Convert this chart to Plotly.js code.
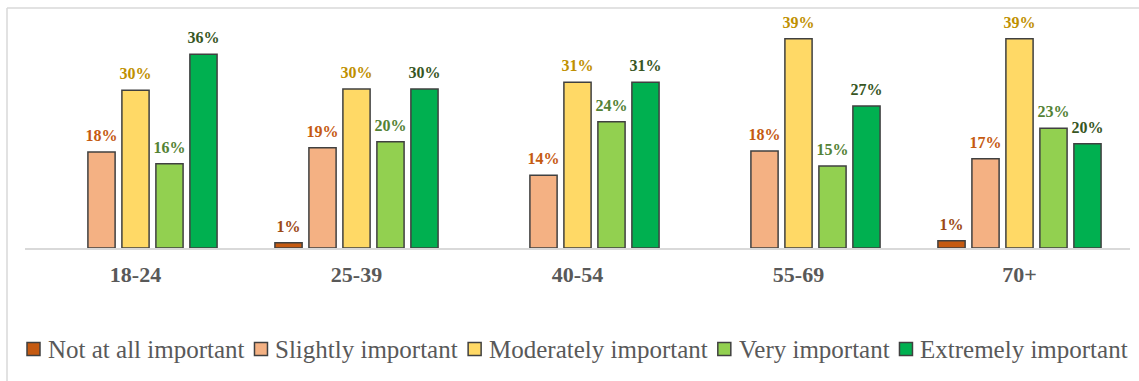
<!DOCTYPE html>
<html><head><meta charset="utf-8">
<script src="https://cdn.plot.ly/plotly-3.0.1.min.js"></script>
<style>html,body{margin:0;padding:0;background:#fff;} #chart{width:1139px;height:381px;}</style>
</head><body><div id="chart"></div>
<script>
// ---- data (percent; labels show rounded values)
const categories = ['18-24', '25-39', '40-54', '55-69', '70+'];
const seriesNames = ['Not at all important', 'Slightly important', 'Moderately important', 'Very important', 'Extremely important'];
const notAtAll   = [null, 1.0, null, null, 1.37];
const slightly   = [18.06, 18.87, 13.68, 18.25, 16.80];
const moderately = [29.67, 29.92, 31.18, 39.38, 39.38];
const very       = [15.86, 20.00, 23.76, 15.43, 22.52];
const extremely  = [36.44, 29.92, 31.18, 26.72, 19.62];

// ---- styles
const fillColors  = ['#C55A11', '#F4B183', '#FFD966', '#92D050', '#00B050'];
const labelColors = ['#9C4A15', '#C55A11', '#BF9000', '#548235', '#375623'];
const FONT = 'Liberation Serif';

const W = 1139, H = 381;
const M = {l: 25, r: 9, t: 10, b: 133};
const plotW = W - M.l - M.r, plotH = H - M.t - M.b;
const pxPerPct = 5.315;
const BARGAP = 0.231;
const px2paperX = px => (px - M.l) / plotW;
const px2paperY = py => (H - M.b - py) / plotH;

const seriesValues = [notAtAll, slightly, moderately, very, extremely];
const barTraces = seriesValues.map((vals, i) => ({
  type: 'bar',
  name: seriesNames[i],
  x: categories,
  y: vals,
  marker: {color: fillColors[i], line: {color: '#404040', width: 1.5}},
  textposition: 'none',
  hoverinfo: 'skip'
}));
// value labels: grouped scatter text placed above each bar top
const labelTraces = seriesValues.map((vals, i) => ({
  type: 'scatter',
  mode: 'markers+text',
  name: seriesNames[i] + ' label',
  x: categories,
  y: vals,
  texttemplate: '%{y:.0f}%',
  textposition: 'top center',
  marker: {size: 9.6, opacity: 0, color: fillColors[i]},
  cliponaxis: false,
  textfont: {family: FONT, size: 16, color: labelColors[i], weight: 'bold'},
  hoverinfo: 'skip',
  showlegend: false
}));

// ---- legend drawn as shapes + annotations laid out from measured text widths
const ctx = document.createElement('canvas').getContext('2d');
const legendFontSize = 25;
ctx.font = legendFontSize + 'px "Liberation Serif"';
const shapes = [];
const annotations = [];
let cx = 27;
const legendCy = 349, sw = 13, gapSwText = 7, gapItems = 11;
seriesNames.forEach((name, i) => {
  shapes.push({type: 'rect', xref: 'paper', yref: 'paper',
    x0: px2paperX(cx), x1: px2paperX(cx + sw),
    y0: px2paperY(legendCy - sw / 2), y1: px2paperY(legendCy + sw / 2),
    fillcolor: fillColors[i], line: {color: '#404040', width: 1.5}});
  const tx = cx + sw + gapSwText;
  annotations.push({text: name, xref: 'paper', yref: 'paper',
    x: px2paperX(tx - 1), y: px2paperY(legendCy), xanchor: 'left', yanchor: 'middle',
    showarrow: false, font: {family: FONT, size: legendFontSize, color: '#595959'}});
  cx = tx + ctx.measureText(name).width + gapItems;
});
// chart frame (left and top edges visible)
shapes.push({type: 'line', xref: 'paper', yref: 'paper', x0: px2paperX(7), x1: px2paperX(7), y0: px2paperY(8), y1: px2paperY(400), line: {color: '#D9D9D9', width: 1.5}});
shapes.push({type: 'line', xref: 'paper', yref: 'paper', x0: px2paperX(7), x1: px2paperX(1160), y0: px2paperY(8), y1: px2paperY(8), line: {color: '#D9D9D9', width: 1.5}});

const layout = {
  width: W, height: H,
  margin: M,
  paper_bgcolor: '#FFFFFF', plot_bgcolor: '#FFFFFF',
  barmode: 'group', bargap: BARGAP, bargroupgap: 0.2,
  scattermode: 'group', scattergap: BARGAP,
  showlegend: false,
  xaxis: {type: 'category', showline: true, linecolor: '#D9D9D9', linewidth: 1.5,
    ticks: '', showgrid: false, zeroline: false, ticklabelstandoff: 6,
    tickfont: {family: FONT, size: 22, color: '#595959', weight: 'bold'}},
  yaxis: {range: [0, plotH / pxPerPct], visible: false, showgrid: false, zeroline: false},
  shapes: shapes,
  annotations: annotations
};

Plotly.newPlot('chart', barTraces.concat(labelTraces), layout, {staticPlot: true, displayModeBar: false});
</script>
</body></html>
